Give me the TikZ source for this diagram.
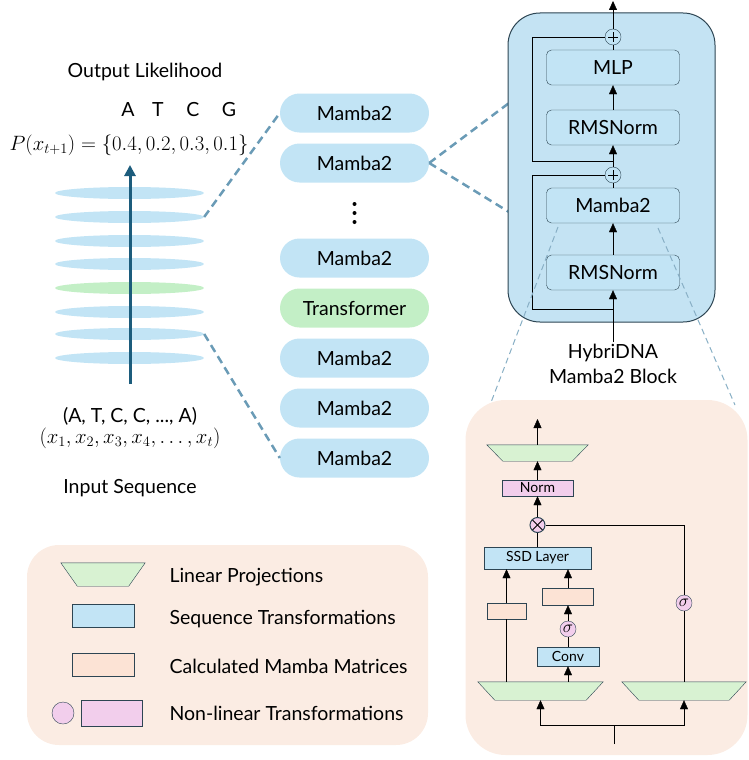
\documentclass[tikz,border=0pt]{standalone}
\usepackage{fontspec}
\setmainfont{Lato}
\usetikzlibrary{positioning,shapes.geometric,shapes.misc,arrows.meta,calc}

\definecolor{pillblue}{HTML}{C2E4F5}
\definecolor{pillgreen}{HTML}{C3EFC6}
\definecolor{blockfill}{HTML}{C4E3F3}
\definecolor{darkedge}{HTML}{2D4553}
\definecolor{dashblue}{HTML}{6A9BB6}
\definecolor{peach}{HTML}{FBECE3}
\definecolor{peachbox}{HTML}{FCE3D5}
\definecolor{lingreen}{HTML}{D8F2D2}
\definecolor{pinkfill}{HTML}{F2CEEC}
\definecolor{arrowteal}{HTML}{1C5C7C}

% linear projection: trapezoid drawn inside a named frame node
\newcommand{\drawlinproj}[2]{%
  \draw[darkedge,fill=lingreen] (#1.north west) -- (#1.north east)
    -- ([xshift=-#2]#1.south east) -- ([xshift=#2]#1.south west) -- cycle;}

\begin{document}
\begin{tikzpicture}
  [x=1pt,y=-1pt,
   every node/.style={font=\fontsize{19.5}{23}\selectfont},
   layer/.style={ellipse,fill=pillblue,minimum width=149pt,minimum height=12pt,inner sep=0pt},
   pill/.style={rounded rectangle,fill=pillblue,minimum width=149pt,minimum height=39pt,inner sep=0pt},
   inbox/.style={draw=darkedge,fill=pillblue,rounded corners=5pt,minimum width=133pt,minimum height=35pt,inner sep=0pt},
   addnode/.style={circle,draw=darkedge,fill=pillblue,minimum size=16pt,inner sep=0pt,
     path picture={\draw[black] ([xshift=-5pt]path picture bounding box.center) -- ([xshift=5pt]path picture bounding box.center);
                   \draw[black] ([yshift=-5pt]path picture bounding box.center) -- ([yshift=5pt]path picture bounding box.center);}},
   mulnode/.style={circle,draw=darkedge,fill=pinkfill,minimum size=15pt,inner sep=0pt,line width=1pt,
     path picture={\draw[black,line width=1pt] ([shift={(-8pt,-8pt)}]path picture bounding box.center) -- ([shift={(8pt,8pt)}]path picture bounding box.center);
                   \draw[black,line width=1pt] ([shift={(-8pt,8pt)}]path picture bounding box.center) -- ([shift={(8pt,-8pt)}]path picture bounding box.center);}},
   signode/.style={circle,draw=darkedge,fill=pinkfill,minimum size=16pt,inner sep=0pt,font=\fontsize{16}{17}\selectfont},
   linframe/.style={rectangle,inner sep=0pt},
   smallbox/.style={rectangle,draw=darkedge,inner sep=0pt,font=\fontsize{14}{16}\selectfont},
   arr/.style={-{Triangle[width=8pt,length=9pt]}},
   bigdash/.style={dashblue,line width=2.5pt,dash pattern=on 8pt off 5pt},
   thindash/.style={dashblue!80,line width=1pt,dash pattern=on 6pt off 4pt}]

  \useasboundingbox (0,0) rectangle (749,760);

  % stacked layers
  \foreach \i/\y/\c in {1/193/pillblue,2/217/pillblue,3/241/pillblue,4/264/pillblue,
                        5/288/pillgreen,6/312/pillblue,7/334/pillblue,8/358/pillblue}
    \node[layer,fill=\c] (lay\i) at (129.5,\y) {};

  \coordinate (arrin) at (130,384);
  \coordinate (arrout) at (130,165);
  \draw[arrowteal,line width=3pt,-{Triangle[width=11pt,length=11pt]}] (arrin) -- (arrout);

  \node (outlbl) at (145,72) {Output Likelihood};
  \foreach \b/\x in {A/128,T/158,C/193,G/229}
    \node (base\b) at (\x,110) {\b};
  \node (prob) at (129,145) {$P(x_{t+1}) = \{0.4, 0.2, 0.3, 0.1\}$};
  \node (seq) at (130,416) {(A, T, C, C, ..., A)};
  \node (xseq) at (130,438) {$(x_1, x_2, x_3, x_4, \dots, x_t)$};
  \node (inlbl) at (130,488) {Input Sequence};

  % layer column
  \node[pill] (m1) at (354.5,113) {Mamba2};
  \node[pill] (m2) at (354.5,163) {Mamba2};
  \foreach \i/\y in {1/204,2/213,3/222}
    \node[circle,fill=black,minimum size=4pt,inner sep=0pt] (dot\i) at (354.5,\y) {};
  \node[pill] (m3) at (354.5,258) {Mamba2};
  \node[pill,fill=pillgreen] (trans) at (354.5,308) {Transformer};
  \node[pill] (m4) at (354.5,358) {Mamba2};
  \node[pill] (m5) at (354.5,408) {Mamba2};
  \node[pill] (m6) at (354.5,458) {Mamba2};

  % zoom lines
  \coordinate (blkup) at (509,103);
  \coordinate (blklow) at (509,212);
  \draw[bigdash] (lay2.east) -- (m1.west);
  \draw[bigdash] (lay7.east) -- (m6.west);
  \draw[bigdash] (m2.east) -- (blkup);
  \draw[bigdash] (m2.east) -- (blklow);

  % hybrid block
  \node[draw=darkedge,fill=blockfill,line width=1pt,rounded corners=32pt,
        minimum width=207pt,minimum height=309pt] (block) at (611.5,167.5) {};
  \node[inbox] (mlp) at (613,67.5) {MLP};
  \node[inbox] (rmsA) at (613,127.5) {RMSNorm};
  \node[inbox] (mamba) at (613,205.5) {Mamba2};
  \node[inbox] (rmsB) at (613,272.5) {RMSNorm};
  \node[addnode] (plusA) at (613,37) {};
  \node[addnode] (plusB) at (613,175) {};
  \coordinate (topout) at (613,1);
  \coordinate (blkin) at (613,342);
  \coordinate (resB) at (613,309);
  \coordinate (resA) at (613,161);

  \draw[arr] (blkin) -- (rmsB.south);
  \draw[arr] (rmsB.north) -- (mamba.south);
  \draw (mamba.north) -- (plusB.south);
  \draw[arr] (plusB.north) -- (rmsA.south);
  \draw[arr] (rmsA.north) -- (mlp.south);
  \draw (mlp.north) -- (plusA.south);
  \draw[arr] (plusA.north) -- (topout);
  \draw (resB) -- ++(-81,0) |- (plusB.west);
  \draw (resA) -- ++(-81,0) |- (plusA.west);

  \node[align=center,font=\fontsize{19.5}{25}\selectfont] (blklbl) at (613,364) {HybriDNA\\Mamba2 Block};

  % zoom into mamba2
  \coordinate (zoomL) at (558,227);
  \coordinate (zoomR) at (658,228);
  \coordinate (detL) at (490,405);
  \coordinate (detR) at (735,405);
  \draw[thindash] (zoomL) -- (detL);
  \draw[thindash] (zoomR) -- (detR);

  % mamba2 detail
  \node[fill=peach,rounded corners=40pt,minimum width=282pt,minimum height=355pt] (detail) at (606.5,577.5) {};
  \node[linframe,minimum width=101pt,minimum height=16pt] (trapT) at (537.5,453) {};
  \drawlinproj{trapT}{16pt}
  \coordinate (outtop) at (537.5,419);
  \node[smallbox,fill=pinkfill,minimum width=71pt,minimum height=16pt] (norm) at (537.5,488) {Norm};
  \node[mulnode] (otimes) at (537.5,525) {};
  \node[smallbox,fill=pillblue,minimum width=107pt,minimum height=22pt] (ssd) at (537.5,558) {SSD Layer};
  \node[smallbox,fill=peachbox,minimum width=39pt,minimum height=16pt] (peachL) at (506.5,611) {};
  \node[smallbox,fill=peachbox,minimum width=51pt,minimum height=17pt] (peachM) at (568,596.5) {};
  \node[signode] (sigM) at (568,629) {$\sigma$};
  \node[smallbox,fill=pillblue,minimum width=62pt,minimum height=19pt] (conv) at (568,656.5) {Conv};
  \node[signode] (sigR) at (684,603) {$\sigma$};
  \node[linframe,minimum width=125pt,minimum height=18pt] (trapL) at (540.5,691) {};
  \drawlinproj{trapL}{17pt}
  \node[linframe,minimum width=124pt,minimum height=18pt] (trapR) at (684,691) {};
  \drawlinproj{trapR}{17pt}
  \coordinate (detin) at (614,744);
  \coordinate (split) at (614,725);

  \draw[arr] (trapT.north) -- (outtop);
  \draw[arr] (norm.north) -- (trapT.south);
  \draw[arr] (otimes.north) -- (norm.south);
  \draw (ssd.north) -- (otimes.south);
  \draw (otimes.east) -| (sigR.north);
  \draw (sigR.south) -- (trapR.north);
  \draw (trapL.north -| peachL.south) -- (peachL.south);
  \draw[arr] (peachL.north) -- (ssd.south -| peachL.north);
  \draw[arr] (trapL.north -| conv.south) -- (conv.south);
  \draw (conv.north) -- (sigM.south);
  \draw[arr] (sigM.north) -- (peachM.south);
  \draw[arr] (peachM.north) -- (ssd.south -| peachM.north);
  \draw (detin) -- (split);
  \draw[arr] (split) -| (trapL.south);
  \draw[arr] (split) -| (trapR.south);

  % legend
  \node[fill=peach,rounded corners=32pt,minimum width=401pt,minimum height=200pt] (legend) at (227.5,645) {};
  \node[linframe,minimum width=84pt,minimum height=23pt] (lgtrap) at (103,574.5) {};
  \drawlinproj{lgtrap}{16.5pt}
  \node[smallbox,fill=pillblue,minimum width=62pt,minimum height=23pt] (lgseq) at (103,615.5) {};
  \node[smallbox,fill=peachbox,minimum width=62pt,minimum height=23pt] (lgmat) at (103,664.5) {};
  \node[circle,draw=darkedge,fill=pinkfill,minimum size=22pt,inner sep=0pt] (lgcirc) at (63,713) {};
  \node[smallbox,fill=pinkfill,minimum width=61pt,minimum height=26pt] (lgrect) at (111.5,713) {};
  \node[anchor=west] (lgtxtA) at (166,577) {Linear Projections};
  \node[anchor=west] (lgtxtB) at (166,619) {Sequence Transformations};
  \node[anchor=west] (lgtxtC) at (166,666) {Calculated Mamba Matrices};
  \node[anchor=west] (lgtxtD) at (166,713) {Non-linear Transformations};
\end{tikzpicture}
\end{document}
